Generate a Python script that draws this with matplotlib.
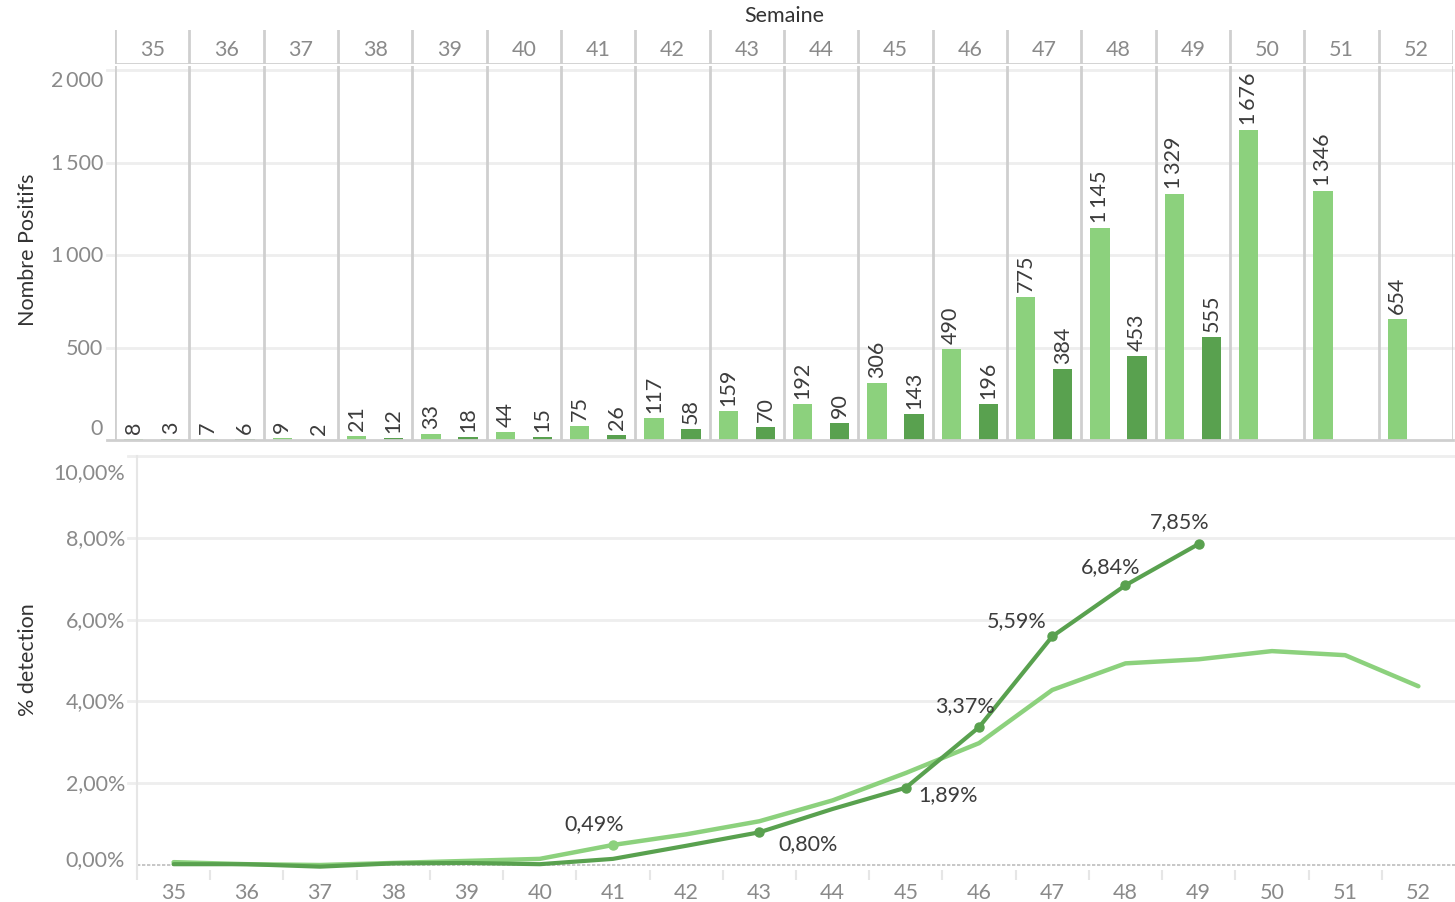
import matplotlib
matplotlib.use("Agg")
import matplotlib.pyplot as plt
from matplotlib.transforms import blended_transform_factory

# ---- data -------------------------------------------------------------
weeks = list(range(35, 53))
positifs_total = [8, 7, 9, 21, 33, 44, 75, 117, 159, 192, 306, 490, 775,
                  1145, 1329, 1676, 1346, 654]
positifs_groupe = [3, 6, 2, 12, 18, 15, 26, 58, 70, 90, 143, 196, 384,
                   453, 555, None, None, None]
pct_total = [0.07, 0.02, 0.00, 0.05, 0.10, 0.15, 0.49, 0.75, 1.07, 1.58,
             2.25, 2.98, 4.28, 4.93, 5.03, 5.23, 5.13, 4.37]
pct_groupe = [0.02, 0.02, -0.04, 0.04, 0.05, 0.02, 0.15, 0.47, 0.80, 1.37,
              1.89, 3.37, 5.59, 6.84, 7.85, None, None, None]
labelled_total = [41]
labelled_groupe = [43, 45, 46, 47, 48, 49]
count_ticks = [0, 500, 1000, 1500, 2000]
pct_ticks = [0, 2, 4, 6, 8, 10]

LIGHT = "#8CD17D"
DARK = "#59A14F"
FRAME = "#cfcfcf"
GRID = "#eeeeee"
TICK_TXT = "#8a8a8a"
TITLE_TXT = "#333333"
VAL_TXT = "#3c3c3c"
FONT = ["Lato", "DejaVu Sans"]
FS = 15.5
plt.rcParams["font.family"] = FONT

W, H = 1455, 903
fig = plt.figure(figsize=(W / 100, H / 100), dpi=100)


def fx(px):
    return px / W


def fy(py):
    return 1 - py / H


def fmt_int(v):
    s = f"{v:,}"
    return s.replace(",", "\u2009")


def fmt_pct(v):
    return f"{v:.2f}%".replace(".", ",")


n = len(weeks)
pos = list(range(n))

# ---- header strip with week numbers ----------------------------------
hx0, hx1 = 115, 1453
hdr = fig.add_axes([fx(hx0), fy(65), fx(hx1) - fx(hx0), (65 - 31) / H])
hdr.set_xlim(-0.5, n - 0.5)
hdr.set_ylim(0, 1)
hdr.axis("off")
for i, w in enumerate(weeks):
    hdr.text(i, 0.45, str(w), ha="center", va="center", fontsize=FS,
             color=TICK_TXT)
for b in [i - 0.5 for i in range(n + 1)]:
    hdr.axvline(b, color=FRAME, lw=2)
hdr.axhline(0, color=FRAME, lw=2)
fig.text(fx(784), fy(16), "Semaine", ha="center", va="center",
         fontsize=FS, color=TITLE_TXT)

# ---- bar panel --------------------------------------------------------
ax = fig.add_axes([fx(hx0), fy(441), fx(hx1) - fx(hx0), (441 - 67) / H])
ax.set_xlim(-0.5, n - 0.5)
ax.set_ylim(0, 2022)
for s in ax.spines.values():
    s.set_visible(False)
ax.set_xticks([])
ax.set_yticks([])

ytr = blended_transform_factory(fig.transFigure, ax.transData)
for t in count_ticks[1:]:
    ax.plot([fx(107), fx(hx1)], [t, t], transform=ytr, color=GRID, lw=2,
            clip_on=False, zorder=0)
ax.plot([fx(107), fx(hx1)], [0, 0], transform=ytr, color=FRAME, lw=2,
        clip_on=False, zorder=3)
for b in [i - 0.5 for i in range(n + 1)]:
    ax.axvline(b, color=FRAME, lw=2, zorder=1)

# tick labels of the count axis (end labels tucked inside the frame)
for t in count_ticks:
    off = 0
    if t == count_ticks[0]:
        off = 12
    elif t == count_ticks[-1]:
        off = -10
    ax.annotate(fmt_int(t), xy=(fx(103), t), xycoords=ytr,
                xytext=(0, off), textcoords="offset pixels",
                ha="right", va="center", fontsize=FS, color=TICK_TXT)

bw = 0.26
for i in pos:
    v1 = positifs_total[i]
    ax.bar(i - 0.25, v1, width=bw, color=LIGHT, zorder=2)
    ax.annotate(fmt_int(v1), xy=(i - 0.25, v1), xytext=(0, 6),
                textcoords="offset pixels", rotation=90, ha="center",
                va="bottom", fontsize=FS, color=VAL_TXT)
    v2 = positifs_groupe[i]
    if v2 is not None:
        ax.bar(i + 0.25, v2, width=bw, color=DARK, zorder=2)
        ax.annotate(fmt_int(v2), xy=(i + 0.25, v2), xytext=(0, 6),
                    textcoords="offset pixels", rotation=90, ha="center",
                    va="bottom", fontsize=FS, color=VAL_TXT)

fig.text(fx(28), fy(250), "Nombre Positifs", rotation=90, ha="center",
         va="center", fontsize=FS, color=TITLE_TXT)

# ---- percentage panel -------------------------------------------------
lx0, lx1 = 137, 1455
la = fig.add_axes([fx(lx0), fy(871), fx(lx1) - fx(lx0), (871 - 457) / H])
la.set_xlim(34.5, 52.5)
la.set_ylim(-0.122, 10)
for k in ("top", "right", "bottom"):
    la.spines[k].set_visible(False)
la.spines["left"].set_color("#e6e6e6")
la.spines["left"].set_linewidth(1.5)

ptr = blended_transform_factory(fig.transFigure, la.transData)
for t in pct_ticks[1:]:
    la.plot([fx(128), fx(lx1)], [t, t], transform=ptr, color=GRID, lw=2,
            clip_on=False, zorder=0)
la.axhline(0, color="#bdbdbd", lw=1.2, dashes=(2, 1), zorder=1)

for t in pct_ticks:
    off = 0
    if t == pct_ticks[0]:
        off = 6
    elif t == pct_ticks[-1]:
        off = -16
    la.annotate(fmt_pct(t), xy=(fx(125), t), xycoords=ptr,
                xytext=(0, off), textcoords="offset pixels",
                ha="right", va="center", fontsize=FS, color=TICK_TXT)
la.set_yticks([])

la.set_xticks(weeks)
la.set_xticklabels([str(w) for w in weeks], fontsize=FS, color=TICK_TXT)
la.tick_params(axis="x", which="major", length=0, pad=9)
la.set_xticks([w - 0.5 for w in weeks], minor=True)
la.tick_params(axis="x", which="minor", length=7, width=1.5,
               color="#e6e6e6")

wt = [w for w, v in zip(weeks, pct_total) if v is not None]
vt = [v for v in pct_total if v is not None]
wg = [w for w, v in zip(weeks, pct_groupe) if v is not None]
vg = [v for v in pct_groupe if v is not None]
la.plot(wt, vt, color=LIGHT, lw=3.2, solid_capstyle="round",
        solid_joinstyle="round", zorder=3)
la.plot(wg, vg, color=DARK, lw=3.0, solid_capstyle="round",
        solid_joinstyle="round", zorder=4)

mt = [(w, pct_total[weeks.index(w)]) for w in labelled_total]
mg = [(w, pct_groupe[weeks.index(w)]) for w in labelled_groupe]
la.plot([p[0] for p in mt], [p[1] for p in mt], "o", color=LIGHT, ms=6.5,
        zorder=5)
la.plot([p[0] for p in mg], [p[1] for p in mg], "o", color=DARK, ms=6.5,
        zorder=5)

# label placement per point (pixel offsets from the marker)
offsets = {
    ("t", 41): (-19, 22),
    ("g", 43): (49, -11),
    ("g", 45): (42, -6),
    ("g", 46): (-14, 22),
    ("g", 47): (-36, 16),
    ("g", 48): (-15, 19),
    ("g", 49): (-19, 23),
}
for (w, v) in mt:
    la.annotate(fmt_pct(v), xy=(w, v), xytext=offsets[("t", w)],
                textcoords="offset pixels", ha="center", va="center",
                fontsize=FS, color=VAL_TXT, zorder=6)
for (w, v) in mg:
    la.annotate(fmt_pct(v), xy=(w, v), xytext=offsets[("g", w)],
                textcoords="offset pixels", ha="center", va="center",
                fontsize=FS, color=VAL_TXT, zorder=6)

fig.text(fx(28), fy(660), "% detection", rotation=90, ha="center",
         va="center", fontsize=FS, color=TITLE_TXT)

fig.savefig("out.png", dpi=100, facecolor="white")
